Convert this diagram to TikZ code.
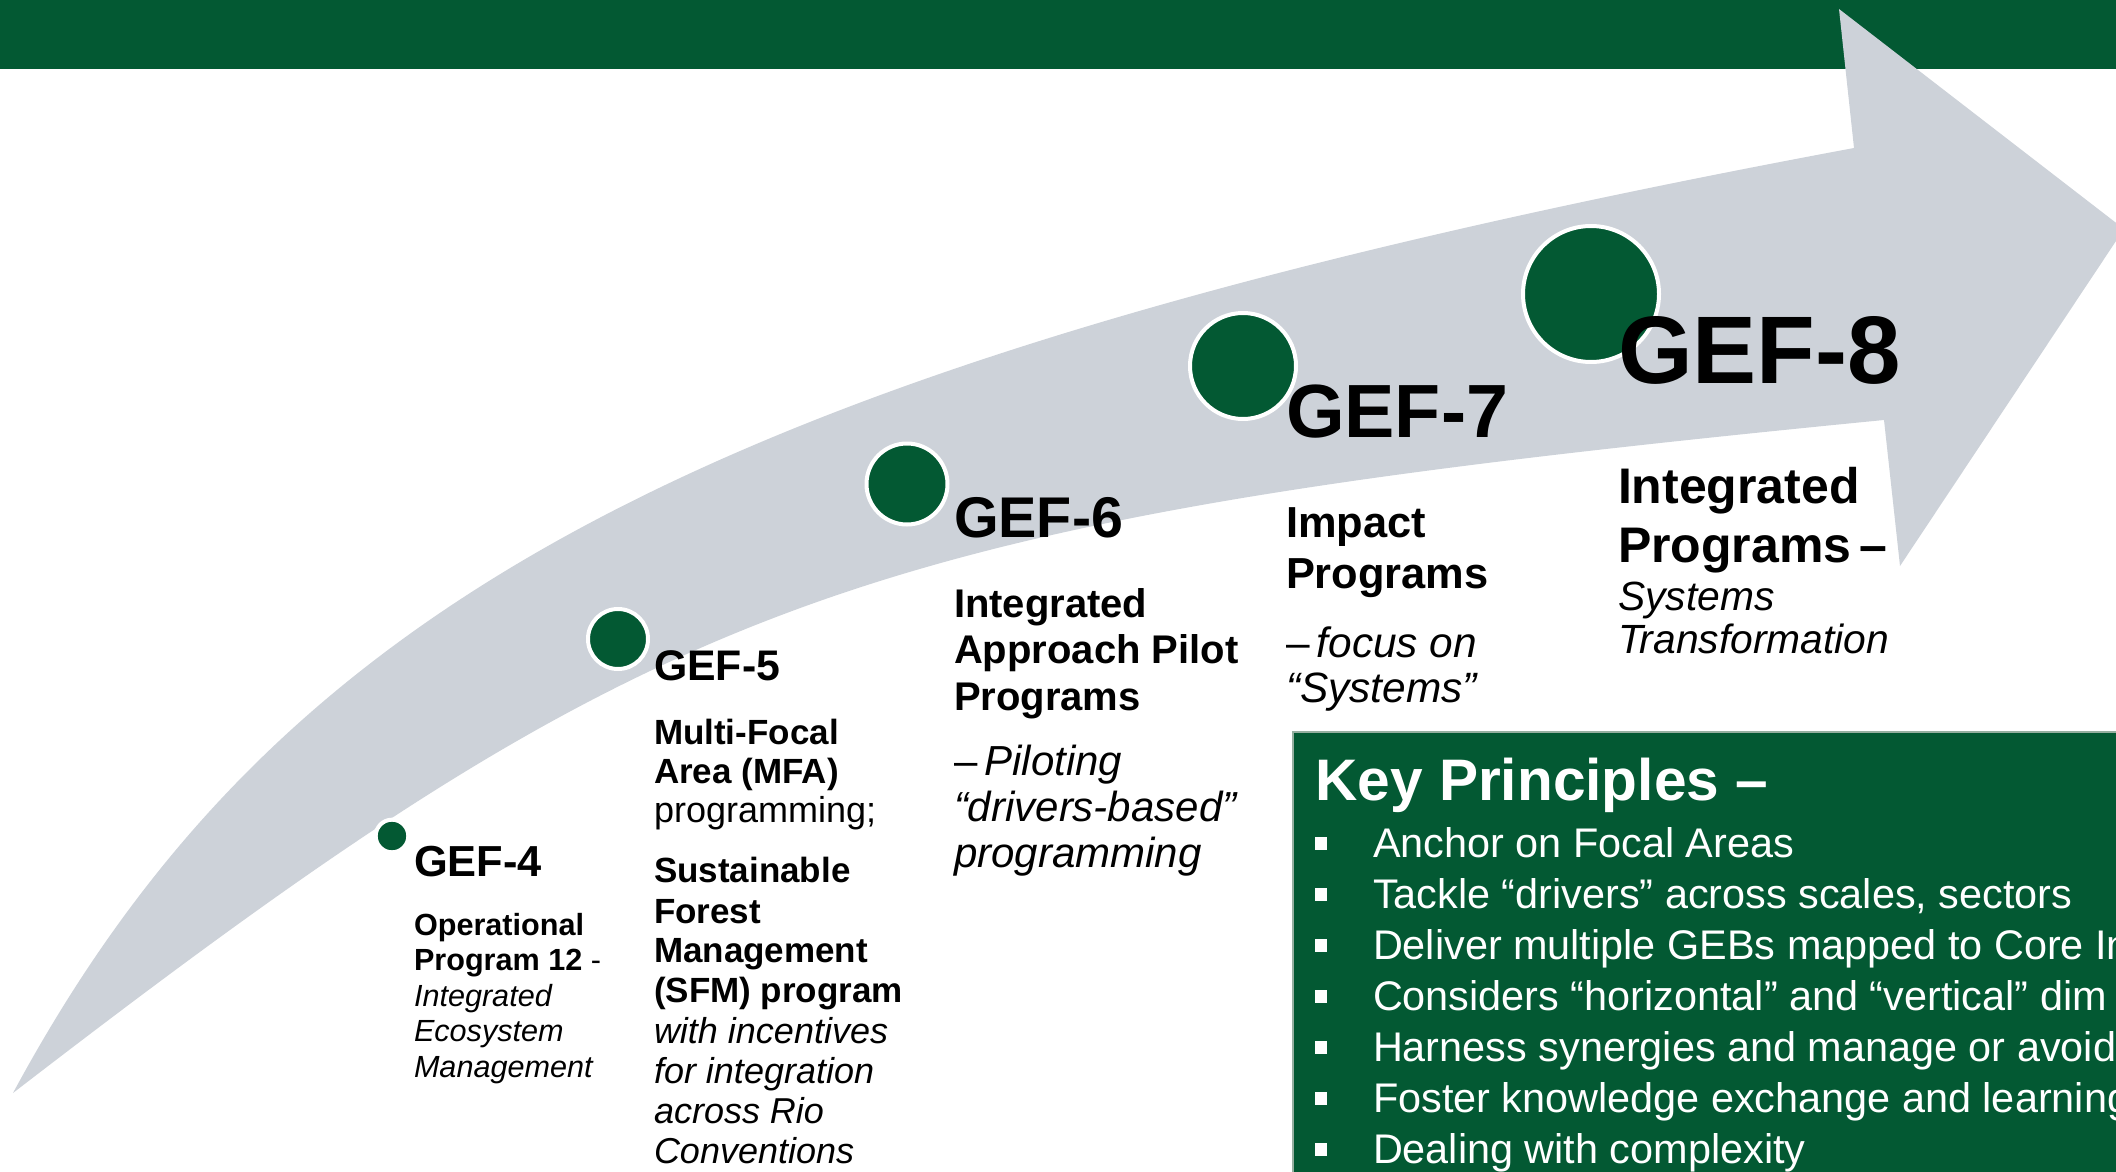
\documentclass[tikz,border=0pt]{standalone}
\usepackage{fontspec}
\setmainfont{Liberation Sans}
\definecolor{gefgreen}{RGB}{3,89,51}
\definecolor{arrowgray}{RGB}{205,210,217}
\definecolor{boxline}{RGB}{150,175,160}
\begin{document}
\begin{tikzpicture}[x=0.5pt,y=-0.5pt,
  lbl/.style={anchor=base west,inner sep=0pt,outer sep=0pt,font=\fontsize{#1}{#1}\selectfont},
  gef/.style={anchor=base west,inner sep=0pt,outer sep=0pt,font=\bfseries\fontsize{#1}{#1}\selectfont},
  dot/.style={circle,fill=gefgreen,draw=white,line width=2pt,inner sep=0pt,minimum size=#1},
  kp/.style={anchor=base west,inner sep=0pt,outer sep=0pt,text=white,font=\fontsize{20.7pt}{20.7pt}\selectfont},
  bul/.style={rectangle,fill=white,inner sep=0pt,minimum size=6.3pt}]
\useasboundingbox (0,0) rectangle (2116,1172);
\clip (0,0) rectangle (2116,1172);
% top bar
\fill[gefgreen] (0,0) rectangle (2116,69);
% curved arrow
\fill[arrowgray]
  (13,1093) .. controls (277,604) and (700,363) .. (1854,148)
  -- (1839,9) -- (2124,229) -- (1900,566) -- (1884,420)
  .. controls (854,521) and (667,589) .. (13,1093)
  -- cycle;
% milestone dots
\node[dot=16.3pt] (c4) at (392,836) {};
\node[dot=30pt]   (c5) at (618,639) {};
\node[dot=40.5pt] (c6) at (907,484) {};
\node[dot=53pt]   (c7) at (1243,366) {};
\node[dot=68pt]   (c8) at (1591,294) {};
% GEF-4
\node[gef=21.7pt] (g4) at (414,876) {GEF-4};
\node[lbl=15.3pt] (g4a) at (414,935) {\textbf{Operational}};
\node[lbl=15.3pt] (g4b) at (414,970.5) {\textbf{Program 12} -};
\node[lbl=15.3pt] (g4c) at (414,1006) {\itshape Integrated};
\node[lbl=15.3pt] (g4d) at (414,1041.5) {\itshape Ecosystem};
\node[lbl=15.3pt] (g4e) at (414,1077) {\itshape Management};
% GEF-5
\node[gef=21.4pt] (g5) at (654,680) {GEF-5};
\node[lbl=17.5pt] (g5a) at (654,744) {\textbf{Multi-Focal}};
\node[lbl=17.5pt] (g5b) at (654,783) {\textbf{Area (MFA)}};
\node[lbl=18pt] (g5c) at (654,822) {programming;};
\node[lbl=17.5pt] (g5d) at (654,882) {\textbf{Sustainable}};
\node[lbl=17.5pt] (g5e) at (654,923) {\textbf{Forest}};
\node[lbl=17.5pt] (g5f) at (654,962) {\textbf{Management}};
\node[lbl=17.5pt] (g5g) at (654,1002) {\textbf{(SFM) program}};
\node[lbl=18pt] (g5h) at (654,1043) {\itshape with incentives};
\node[lbl=18pt] (g5i) at (654,1083) {\itshape for integration};
\node[lbl=18pt] (g5j) at (654,1123) {\itshape across Rio};
\node[lbl=18pt] (g5k) at (654,1163) {\itshape Conventions};
% GEF-6
\node[gef=28.7pt] (g6) at (954,537) {GEF-6};
\node[lbl=20pt] (g6a) at (954,617) {\textbf{Integrated}};
\node[lbl=20pt] (g6b) at (954,663.5) {\textbf{Approach Pilot}};
\node[lbl=20pt] (g6c) at (954,710) {\textbf{Programs}};
\node[lbl=21pt] (g6d) at (954,775) {–\,\textit{Piloting}};
\node[lbl=21pt] (g6e) at (954,821.5) {\itshape “drivers-based”};
\node[lbl=21pt] (g6f) at (954,867) {\itshape programming};
% GEF-7
\node[gef=37.7pt] (g7) at (1286,437) {GEF-7};
\node[lbl=21.7pt] (g7a) at (1286,537) {\textbf{Impact}};
\node[lbl=21.7pt] (g7b) at (1286,588) {\textbf{Programs}};
\node[lbl=21.2pt] (g7c) at (1286,657) {–\,\textit{focus on}};
\node[lbl=21.2pt] (g7d) at (1286,702) {\itshape “Systems”};
% GEF-8
\node[gef=48pt] (g8) at (1618,383) {GEF-8};
\node[lbl=25pt] (g8a) at (1618,503) {\textbf{Integrated}};
\node[lbl=25pt] (g8b) at (1618,562) {\textbf{Programs\,–}};
\node[lbl=20.4pt] (g8c) at (1618,610) {\itshape Systems};
\node[lbl=20.4pt] (g8d) at (1618,653) {\itshape Transformation};
% Key principles box
\fill[gefgreen] (1293,732) rectangle (2116,1172);
\draw[boxline,line width=0.6pt] (2116,732) -- (1293,732) -- (1293,1172);
\node[anchor=base west,inner sep=0pt,text=white,font=\bfseries\fontsize{29.3pt}{29.3pt}\selectfont] (kt) at (1315,800) {Key Principles –};
\node[bul] (b1) at (1321,843.5) {};
\node[bul] (b2) at (1321,894.5) {};
\node[bul] (b3) at (1321,945.5) {};
\node[bul] (b4) at (1321,996.5) {};
\node[bul] (b5) at (1321,1047.5) {};
\node[bul] (b6) at (1321,1098.5) {};
\node[bul] (b7) at (1321,1149.5) {};
\node[kp] (k1) at (1373,857) {Anchor on Focal Areas};
\node[kp] (k2) at (1373,908) {Tackle “drivers” across scales, sectors};
\node[kp] (k3) at (1373,959) {Deliver multiple GEBs mapped to Core In};
\node[kp] (k4) at (1373,1010) {Considers “horizontal” and “vertical” dim};
\node[kp] (k5) at (1373,1061) {Harness synergies and manage or avoid r};
\node[kp] (k6) at (1373,1112) {Foster knowledge exchange and learning};
\node[kp] (k7) at (1373,1163) {Dealing with complexity};
\end{tikzpicture}
\end{document}
